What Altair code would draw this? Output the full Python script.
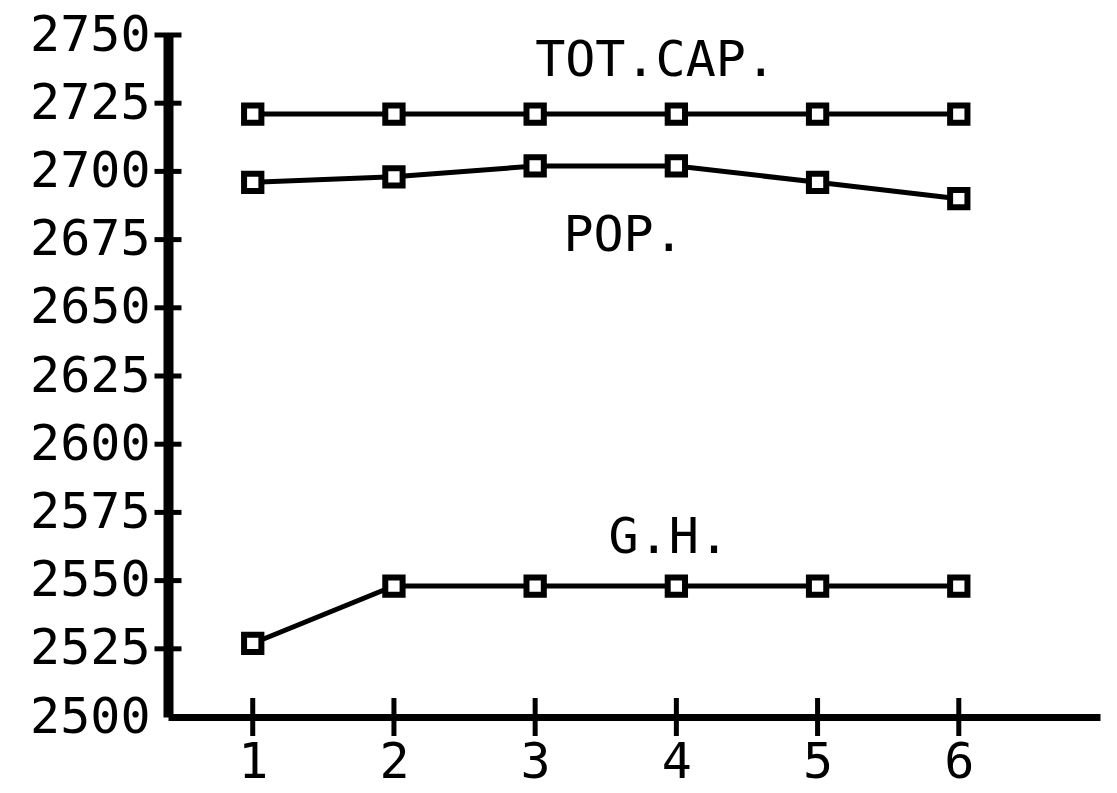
import altair as alt
import pandas as pd

# Data
periods = [1, 2, 3, 4, 5, 6]
tot_cap = [2721, 2721, 2721, 2721, 2721, 2721]
pop = [2696, 2698, 2702, 2702, 2696, 2690]
gh = [2527, 2548, 2548, 2548, 2548, 2548]

series_names = ["TOT.CAP.", "POP.", "G.H."]
label_x = [3.0, 3.2, 3.52]
label_y = [2735, 2671, 2560]

y_ticks = [2525, 2550, 2575, 2600, 2625, 2650, 2675, 2700, 2725, 2750]
x_ticks = [1, 2, 3, 4, 5, 6]

X_MIN, X_MAX = 0.4, 7.0
Y_MIN, Y_MAX = 2500, 2750

rows = []
for name, vals in zip(series_names, [tot_cap, pop, gh]):
    for p, v in zip(periods, vals):
        rows.append({"series": name, "period": p, "value": v})
df = pd.DataFrame(rows)

labels_df = pd.DataFrame({"text": series_names, "x": label_x, "y": label_y})
yt_df = pd.DataFrame({"y": y_ticks})
xt_df = pd.DataFrame({"x": x_ticks})

FONT = "DejaVu Sans Mono"
WEIGHT = "normal"

xscale = alt.Scale(domain=[X_MIN, X_MAX], nice=False, zero=False)
yscale = alt.Scale(domain=[Y_MIN, Y_MAX], nice=False, zero=False)

xenc = alt.X(
    "period:Q",
    scale=xscale,
    axis=alt.Axis(
        values=x_ticks, format="d", ticks=False, grid=False, title=None,
        labelFont=FONT, labelFontSize=50, labelFontWeight=WEIGHT,
        labelColor="black", labelPadding=20, domainColor="black",
        domainWidth=7, labelFlush=False,
    ),
)
yenc = alt.Y(
    "value:Q",
    scale=yscale,
    axis=alt.Axis(
        values=[2500] + y_ticks, format="d", ticks=False, grid=False, title=None,
        labelFont=FONT, labelFontSize=50, labelFontWeight=WEIGHT,
        labelColor="black", labelPadding=18, domainColor="black",
        domainWidth=10, labelFlush=False,
    ),
)

lines = alt.Chart(df).mark_line(color="black", strokeWidth=5).encode(
    x=xenc, y=yenc, detail="series:N"
)

points = alt.Chart(df).mark_point(
    shape="square", size=300, filled=False, fill="white", fillOpacity=1,
    stroke="black", strokeWidth=6, opacity=1,
).encode(x="period:Q", y="value:Q")

texts = alt.Chart(labels_df).mark_text(
    font=FONT, fontSize=50, fontWeight=WEIGHT, color="black",
    align="left", baseline="alphabetic",
).encode(x="x:Q", y="y:Q", text="text:N")

yticks = alt.Chart(yt_df).mark_tick(
    orient="horizontal", size=27, thickness=5, color="black", opacity=1
).encode(y="y:Q", x=alt.datum(X_MIN))

xticks = alt.Chart(xt_df).mark_tick(
    orient="vertical", size=38, thickness=5, color="black", opacity=1
).encode(x="x:Q", y=alt.datum(Y_MIN))

chart = (
    alt.layer(lines, yticks, xticks, points, texts)
    .properties(
        width=932,
        height=682,
        autosize=alt.AutoSizeParams(type="none"),
        padding={"left": 160, "top": 27, "right": 9, "bottom": 76},
        background="white",
    )
    .configure_view(stroke=None)
)

chart.save("out.html", embed_options={"renderer": "svg", "actions": False})
